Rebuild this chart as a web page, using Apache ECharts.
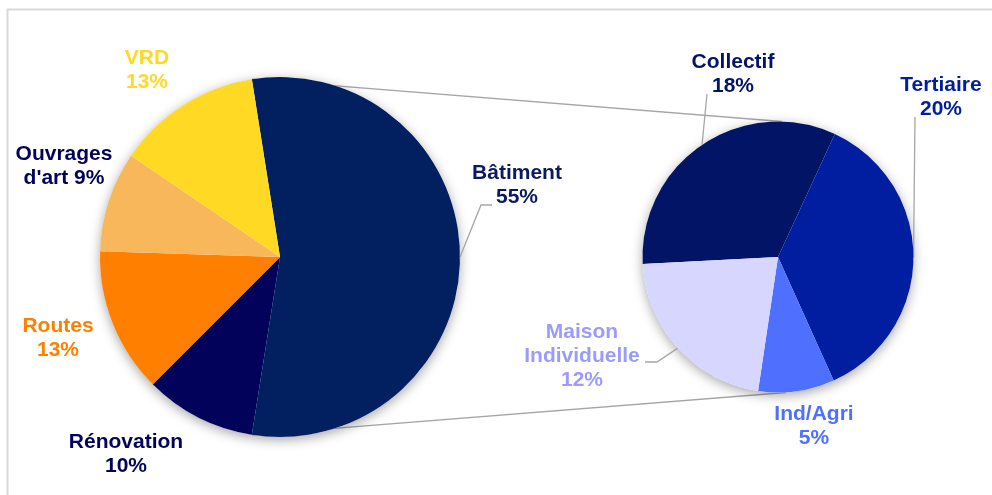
<!DOCTYPE html>
<html>
<head>
<meta charset="utf-8">
<script src="https://cdn.jsdelivr.net/npm/echarts@6/dist/echarts.min.js"></script>
<style>
  html, body { margin: 0; padding: 0; background: #ffffff; }
  #chart { width: 992px; height: 495px; }
</style>
</head>
<body>
<div id="chart"></div>
<script>
// Market breakdown (left pie), in %
const mainNames = ['Bâtiment', 'Rénovation', 'Routes', "Ouvrages d'art", 'VRD'];
const mainValues = [55, 10, 13, 9, 13];
// Split of the "Bâtiment" share (right pie), in % of the total
const subNames = ['Collectif', 'Tertiaire', 'Ind/Agri', 'Maison Individuelle'];
const subValues = [18, 20, 5, 12];

// Styling
const mainColors = ['#022060', '#02025A', '#FF8000', '#F8B75A', '#FFD923'];
const mainLabelColors = ['#0A1A5E', '#02025A', '#FF8000', '#02025A', '#FFD923'];
const subColors = ['#021466', '#001E9F', '#4F6FFF', '#D6D6FF'];
const subLabelColors = ['#021466', '#001E9F', '#4F6FFF', '#9B9BFF'];
const mainLabelPos = [[517, 185], [126, 454], [58, 338], [64, 166], [147, 70]];
const subLabelPos = [[733, 74], [941, 97], [814, 426], [582, 356]];
// leader line: [bend offset, end offset] relative to the label anchor, or null
const mainLeader = [[[-36, 20], [-25, 20]], null, null, null, null];
const subLeader = [[[-26, 20], [-26, 20]], [[-26, 20], [-26, 20]], null, [[75, 6], [63, 6]]];

const FONT = '"Liberation Sans", Arial, sans-serif';
const LINE = '#A6A6A6';

const mainCenter = [280, 257], mainR = 180;
const subCenter = [778, 257], subR = 135.5;

const sum = arr => arr.reduce((a, b) => a + b, 0);
const mainTotal = sum(mainValues);
const subTotal = sum(subValues);
// the detailed share is centred on 3 o'clock
const mainStart = mainValues[0] / mainTotal * 360 / 2;
const subStart = 183;

const rad = d => d * Math.PI / 180;
// point on the rim of a pie at the middle of slice i
function rimMid(center, r, start, values, i) {
  const total = sum(values);
  const before = sum(values.slice(0, i));
  const mid = start - (before + values[i] / 2) / total * 360;
  return [center[0] + r * Math.cos(rad(mid)), center[1] - r * Math.sin(rad(mid))];
}

function labelText(name, value) {
  if (name === "Ouvrages d'art") return "Ouvrages\nd'art " + value + '%';
  if (name === 'Maison Individuelle') return 'Maison\nIndividuelle\n' + value + '%';
  return name + '\n' + value + '%';
}

function buildData(names, values, colors, labelColors, leaders) {
  return names.map((n, i) => ({
    name: n,
    value: values[i],
    itemStyle: { color: colors[i] },
    label: { color: labelColors[i] },
    labelLine: { show: !!leaders[i] }
  }));
}

function makeLayout(center, r, start, values, pos, leaders) {
  return p => {
    const i = p.dataIndex;
    const out = { x: pos[i][0], y: pos[i][1], align: 'center', verticalAlign: 'middle' };
    const ld = leaders[i];
    if (ld) {
      out.labelLinePoints = [
        rimMid(center, r, start, values, i),
        [pos[i][0] + ld[0][0], pos[i][1] + ld[0][1]],
        [pos[i][0] + ld[1][0], pos[i][1] + ld[1][1]]
      ];
    }
    return out;
  };
}

const labelCommon = {
  show: true,
  fontFamily: FONT,
  fontWeight: 'bold',
  fontSize: 21,
  lineHeight: 24,
  align: 'center',
  formatter: p => labelText(p.name, p.value)
};
const lineCommon = {
  show: true,
  smooth: false,
  length: 10,
  length2: 10,
  lineStyle: { color: LINE, width: 1.3 }
};

const chart = echarts.init(document.getElementById('chart'), null, { renderer: 'canvas' });

const shadowDisc = (center, r, total) => ({
  type: 'pie',
  center: center,
  radius: r,
  silent: true,
  z: 1,
  label: { show: false },
  labelLine: { show: false },
  emphasis: { disabled: true },
  itemStyle: {
    color: '#ffffff',
    shadowBlur: 12,
    shadowOffsetY: 3,
    shadowColor: 'rgba(0,0,0,0.35)'
  },
  data: [{ name: '', value: total }]
});

chart.setOption({
  animation: false,
  backgroundColor: '#ffffff',
  series: [
    shadowDisc(mainCenter, mainR, mainTotal),
    shadowDisc(subCenter, subR, subTotal),
    {
      type: 'pie',
      z: 2,
      center: mainCenter,
      radius: mainR,
      startAngle: mainStart,
      clockwise: true,
      avoidLabelOverlap: false,
      emphasis: { disabled: true },
      itemStyle: { borderWidth: 0 },
      label: labelCommon,
      labelLine: lineCommon,
      labelLayout: makeLayout(mainCenter, mainR, mainStart, mainValues, mainLabelPos, mainLeader),
      data: buildData(mainNames, mainValues, mainColors, mainLabelColors, mainLeader)
    },
    {
      type: 'pie',
      z: 2,
      center: subCenter,
      radius: subR,
      startAngle: subStart,
      clockwise: true,
      avoidLabelOverlap: false,
      emphasis: { disabled: true },
      itemStyle: { borderWidth: 0 },
      label: labelCommon,
      labelLine: lineCommon,
      labelLayout: makeLayout(subCenter, subR, subStart, subValues, subLabelPos, subLeader),
      data: buildData(subNames, subValues, subColors, subLabelColors, subLeader)
    }
  ]
});

// Series lines joining the edges of the "Bâtiment" slice to the detail pie
const a0 = rad(mainStart);
const a1 = rad(mainStart - mainValues[0] / mainTotal * 360);
const p0 = [mainCenter[0] + mainR * Math.cos(a0), mainCenter[1] - mainR * Math.sin(a0)];
const p1 = [mainCenter[0] + mainR * Math.cos(a1), mainCenter[1] - mainR * Math.sin(a1)];
const q0 = [subCenter[0] + 4, subCenter[1] - subR];
const q1 = [subCenter[0] + 8, subCenter[1] + subR];

chart.setOption({
  graphic: [
    {
      type: 'rect',
      silent: true,
      z: 0,
      shape: { x: 7.5, y: 9.5, width: 1100, height: 600 },
      style: { fill: 'none', stroke: '#D9D9D9', lineWidth: 2 }
    },
    {
      type: 'line',
      silent: true,
      z: 0,
      shape: { x1: p0[0], y1: p0[1], x2: q0[0], y2: q0[1] },
      style: { stroke: LINE, lineWidth: 1.3 }
    },
    {
      type: 'line',
      silent: true,
      z: 0,
      shape: { x1: p1[0], y1: p1[1], x2: q1[0], y2: q1[1] },
      style: { stroke: LINE, lineWidth: 1.3 }
    }
  ]
});
</script>
</body>
</html>
